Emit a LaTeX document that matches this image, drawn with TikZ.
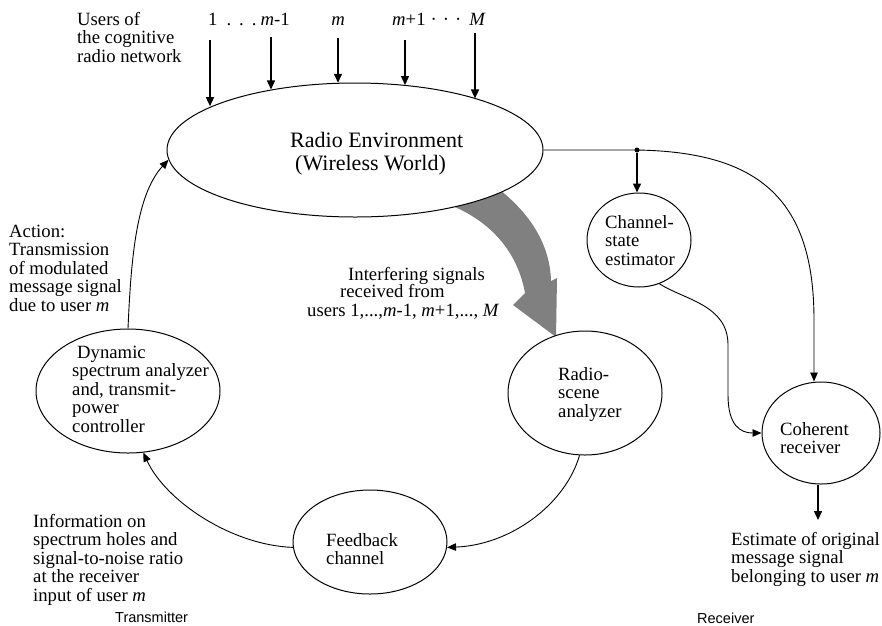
\documentclass[tikz,border=0pt]{standalone}
\usepackage{fontspec}
\setmainfont{Liberation Serif}
\newfontfamily\arialfont{Liberation Sans}
\usetikzlibrary{arrows.meta,shapes.geometric}
\tikzset{
  lbl/.style={font=\fontsize{18.7}{18.5}\selectfont, inner sep=0pt, anchor=base west},
  blob/.style={draw, ellipse, line width=1pt, inner sep=0pt, fill=white},
  conn/.style={line width=0.9pt, -{Triangle[length=9pt,width=7.5pt]}},
  vconn/.style={line width=1.4pt, -{Triangle[length=9pt,width=8pt]}},
  dotn/.style={circle, fill, inner sep=0pt, minimum size=5pt},
  bigarrow/.style={fill=black!50},
}
\newcommand\mylines[4]{\foreach \t [count=\i] in {#4} {\node[lbl] (#1\i) at (#2,{#3+18.5*(\i-1)}) {\t};}}
\begin{document}
\begin{tikzpicture}[x=1pt,y=-1pt]
\useasboundingbox (0,0) rectangle (882,625);
% big gray arrow (drawn first, partly hidden by the ellipse)
\fill[bigarrow] (498,182) -- (500,190) .. controls (525,210) and (550,240) .. (551,281)
  -- (557,278) -- (556,337) -- (513,305) -- (525,293)
  .. controls (518,255) and (495,225) .. (455,207) -- (453,196) -- cycle;
% ellipses
\node[blob, minimum width=376pt, minimum height=134pt] (env) at (355,150) {};
\node[blob, minimum width=104pt, minimum height=94pt] (chan) at (639,240) {};
\node[blob, minimum width=118pt, minimum height=102pt] (coh) at (821,433) {};
\node[blob, minimum width=154pt, minimum height=124pt] (scene) at (585,393) {};
\node[blob, minimum width=154pt, minimum height=104pt] (feedback) at (370,542) {};
\node[blob, minimum width=184pt, minimum height=124pt] (dyn) at (128,391) {};
% ellipse texts
\node[lbl, font=\fontsize{22}{23}\selectfont] (envtext1) at (290,147) {Radio Environment};
\node[lbl, font=\fontsize{22}{23}\selectfont] (envtext2) at (295,170) {(Wireless World)};
\mylines{chantext}{605}{228}{Channel-, state, estimator}
\mylines{scenetext}{558}{380}{Radio-, scene, analyzer}
\mylines{cohtext}{780}{435}{Coherent, receiver}
\mylines{fbtext}{326}{546}{Feedback, channel}
\mylines{dyntext}{72}{358}{\hspace{5pt}Dynamic, spectrum analyzer, {and, transmit-}, power, controller}
% other texts
\mylines{users}{77}{25}{Users of, the cognitive, radio network}
\node[lbl] (idx1) at (208,25) {1\hspace{9pt}.\hspace{8pt}.\hspace{8pt}.\hspace{4pt}\textit{m}-1};
\node[lbl, anchor=base] (idxm) at (338,25) {\textit{m}};
\node[lbl] (idx2) at (392,25) {\textit{m}+1\hspace{5pt}·\hspace{6pt}·\hspace{6pt}·\hspace{8pt}\textit{M}};
\mylines{action}{9}{237}{Action:, Transmission, of modulated, message signal, due to user \textit{m}}
\mylines{info}{33}{527}{Information on, spectrum holes and, signal-to-noise ratio, at the receiver, input of user \textit{m}}
\mylines{est}{731}{545}{Estimate of original, message signal, belonging to user \textit{m}}
\node[lbl] (intf1) at (348,280) {Interfering signals};
\node[lbl] (intf2) at (340,297) {received from};
\node[lbl] (intf3) at (307,316) {users 1,...,\textit{m}-1, \textit{m}+1,..., \textit{M}};
\node[lbl, font=\arialfont\fontsize{14.5}{16}\selectfont] (tx) at (115,622) {Transmitter};
\node[lbl, font=\arialfont\fontsize{14.5}{16}\selectfont] (rx) at (697,623) {Receiver};
% user arrows
\coordinate (t1) at (210,40);
\coordinate (t2) at (271,37);
\coordinate (t3) at (338,38);
\coordinate (t4) at (405,40);
\coordinate (t5) at (475,33);
\draw[vconn] (t1) -- (t1 |- env.163.6);
\draw[vconn] (t2) -- (t2 |- env.144.5);
\draw[vconn] (t3) -- (t3 |- env.104.3);
\draw[vconn] (t4) -- (t4 |- env.52.3);
\draw[vconn] (t5) -- (t5 |- env.23.3);
% receiver side
\node[dotn] (tap) at (637,150) {};
\coordinate (cohin) at (814,320);
\draw[conn] (env.east) -- (tap.center) .. controls (760,152) and (814,200) .. (cohin) -- (cohin |- coh.north);
\draw[vconn] (tap) -- (tap |- chan.north);
\draw[conn] (chan.-65) .. controls (685,300) and (728,305) .. (728,345) -- (728,395)
  .. controls (728,425) and (740,433) .. (coh.west);
\coordinate (estTip) at (818,520);
\draw[vconn] (coh.south -| estTip) -- (estTip);
% transmitter loop
\draw[conn] (scene.265) .. controls (565,505) and (510,545) .. (feedback.-4);
\draw[conn] (feedback.184) .. controls (230,545) and (165,500) .. (dyn.-76);
\draw[conn] (dyn.north) .. controls (131,260) and (136,195) .. (env.183);
\end{tikzpicture}
\end{document}
